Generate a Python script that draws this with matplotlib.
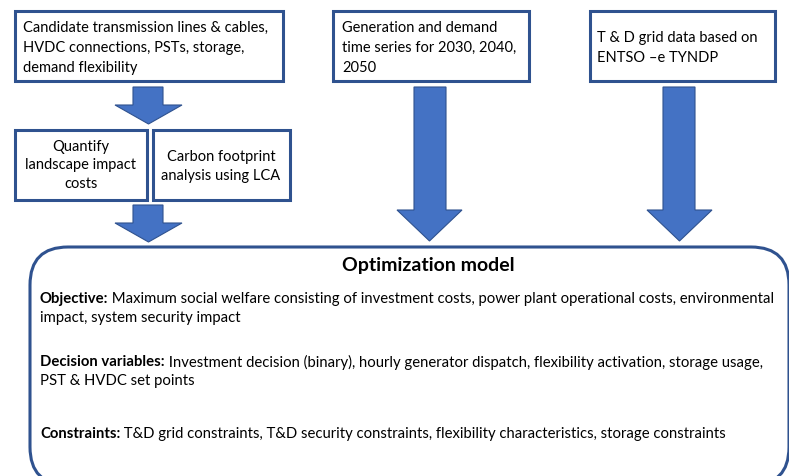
import matplotlib
matplotlib.use("Agg")
import matplotlib.pyplot as plt
from matplotlib.patches import Rectangle, Polygon, FancyBboxPatch

plt.rcParams['font.family'] = ['Lato', 'DejaVu Sans']

# texts of the diagram
box_top_left = ["Candidate transmission lines & cables,",
                "HVDC connections, PSTs, storage,",
                "demand flexibility"]
box_top_mid = ["Generation and demand",
               "time series for 2030, 2040,",
               "2050"]
box_top_right = ["T & D grid data based on",
                 "ENTSO \u2013e TYNDP"]
box_quantify = ["Quantify", "landscape impact", "costs"]
box_carbon = ["Carbon footprint", "analysis using LCA"]
model_title = "Optimization model"
model_items = [
    ("Objective:", " Maximum social welfare consisting of investment costs, power plant operational costs, environmental",
     "impact, system security impact"),
    ("Decision variables:", " Investment decision (binary), hourly generator dispatch, flexibility activation, storage usage,",
     "PST & HVDC set points"),
    ("Constraints:", " T&D grid constraints, T&D security constraints, flexibility characteristics, storage constraints",
     ""),
]

edge = '#2F528F'
fill = '#4472C4'

W, H = 789, 477
fig = plt.figure(figsize=(W / 100, H / 100), dpi=100)
ax = fig.add_axes([0, 0, 1, 1])
ax.set_xlim(0, W)
ax.set_ylim(H, 0)
ax.axis('off')


def box(x0, y0, x1, y1):
    ax.add_patch(Rectangle((x0, y0), x1 - x0, y1 - y0, facecolor='white',
                           edgecolor=edge, lw=2.2, zorder=2))


def arrow(sx0, sx1, hx0, hx1, ytop, yneck, ytip):
    cx = (hx0 + hx1) / 2
    pts = [(sx0, ytop), (sx1, ytop), (sx1, yneck), (hx1, yneck), (cx, ytip),
           (hx0, yneck), (sx0, yneck)]
    ax.add_patch(Polygon(pts, closed=True, facecolor=fill, edgecolor=edge,
                         lw=0.8, zorder=1))


def lines(txt, x, y0, dy, ha='left', size=10.5):
    for i, t in enumerate(txt):
        ax.text(x, y0 + i * dy, t, ha=ha, va='center', fontsize=size,
                color='black', zorder=3)


# top boxes
box(15, 12, 283, 82)
lines(box_top_left, 23, 28, 20)
box(333, 12, 529, 82)
lines(box_top_mid, 342, 28, 20)
box(590, 12, 775, 82)
lines(box_top_right, 597, 38, 20)

# middle boxes
box(15, 131, 147, 201)
lines(box_quantify, 81, 147, 18.5, ha='center')
box(153, 131, 290, 201)
lines(box_carbon, 221, 157, 19, ha='center')

# arrows
arrow(133, 163, 115, 182, 88, 106, 125)
arrow(133, 163, 115, 182, 206, 224, 243)
arrow(414, 446, 397, 462, 88, 211, 242)
arrow(663, 695, 647, 712, 88, 211, 242)

# optimization model box
ax.add_patch(FancyBboxPatch((30, 248), 759, 238,
                            boxstyle="round,pad=0,rounding_size=38",
                            facecolor='white', edgecolor=edge, lw=2.2, zorder=2))
ax.text(428, 266, model_title, ha='center', va='center', fontsize=14,
        fontweight='bold', zorder=3)

fig.canvas.draw()
renderer = fig.canvas.get_renderer()
inv = ax.transData.inverted()
ys = [299, 362, 434]
for (lab, rest, second), y in zip(model_items, ys):
    t = ax.text(40, y, lab, ha='left', va='center', fontsize=10.7,
                fontweight='bold', zorder=3)
    bb = t.get_window_extent(renderer)
    xend = inv.transform((bb.x1, bb.y0))[0]
    ax.text(xend, y, rest, ha='left', va='center', fontsize=10.7, zorder=3)
    if second:
        ax.text(40, y + 19, second, ha='left', va='center', fontsize=10.7, zorder=3)

fig.savefig('out.png', dpi=100)
